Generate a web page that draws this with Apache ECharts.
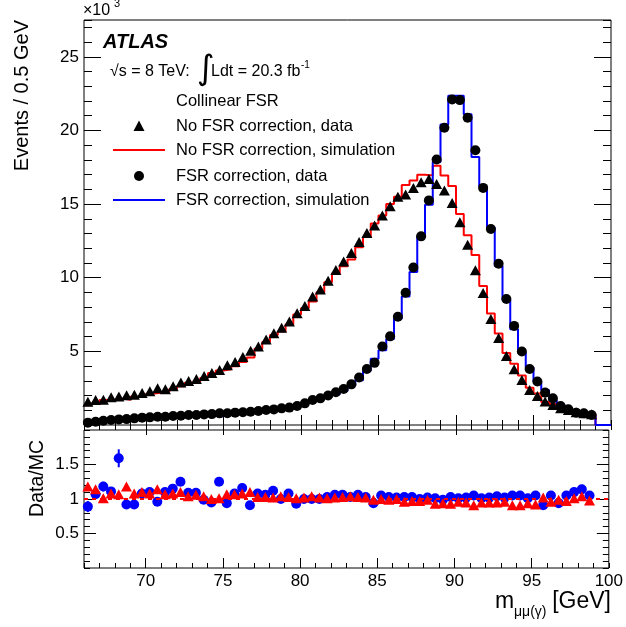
<!DOCTYPE html>
<html>
<head>
<meta charset="utf-8">
<script src="https://cdn.jsdelivr.net/npm/echarts@6/dist/echarts.min.js"></script>
<style>
html,body{margin:0;padding:0;background:#fff;}
#c{width:626px;height:627px;}
</style>
</head>
<body>
<div id="c"></div>
<script>
// ---- data (values in units of 10^3 events per 0.5 GeV bin) ----
const binStart = 66;      // GeV, lower edge of first bin
const binWidth = 0.5;     // GeV
const xTickLabels = [70, 75, 80, 85, 90, 95, 100];
const yTickLabels = [5, 10, 15, 20, 25];
const ratioTickLabels = [0.5, 1, 1.5];

// No FSR correction, data (triangles)
const noFsrData = [
  1.58,1.70,1.72,1.88,1.93,2.02,2.06,2.18,2.30,2.50,
  2.42,2.63,2.89,2.98,3.13,3.32,3.53,3.74,4.05,4.27,
  4.62,5.05,5.33,5.80,6.23,6.60,7.03,7.58,8.08,8.73,
  9.20,9.80,10.52,11.10,11.68,12.43,13.04,13.54,14.22,14.85,
  15.49,15.65,16.10,16.48,16.71,16.37,15.92,15.08,13.76,12.24,
  10.50,8.96,7.19,5.90,4.69,3.79,3.06,2.38,1.97,1.59,
  1.36,1.13,1.02,0.86,0.79,0.73
];
// No FSR correction, simulation (red histogram)
const noFsrSim = [
  1.34,1.49,1.70,1.74,1.80,1.71,1.91,1.98,2.13,2.19,
  2.26,2.44,2.63,2.87,2.95,3.19,3.53,3.70,3.79,3.99,
  4.28,4.59,5.17,5.63,6.11,6.35,6.83,7.50,7.92,8.39,
  9.02,9.70,10.31,10.78,11.23,12.07,12.78,13.68,14.22,15.00,
  15.49,16.30,16.60,16.99,16.95,17.60,16.94,16.22,14.33,12.88,
  11.54,9.43,7.57,6.21,4.89,4.16,3.36,2.53,2.14,1.56,
  1.42,1.14,1.05,0.85,0.76,0.74,0,0
];
// FSR correction, data (circles)
const fsrData = [
  0.16,0.22,0.29,0.34,0.38,0.40,0.45,0.50,0.52,0.56,
  0.56,0.61,0.63,0.68,0.68,0.72,0.74,0.79,0.80,0.84,
  0.86,0.90,0.95,1.02,1.06,1.13,1.18,1.29,1.47,1.70,
  1.81,2.00,2.22,2.45,2.76,3.22,3.80,4.22,5.33,6.02,
  7.35,8.98,10.70,12.81,15.25,18.03,20.18,22.10,22.06,20.86,
  18.66,16.10,13.31,10.95,8.55,6.73,4.99,3.80,2.95,2.20,
  1.81,1.29,1.07,0.84,0.79,0.68
];
// FSR correction, simulation (blue histogram)
const fsrSim = [
  0.18,0.21,0.25,0.31,0.25,0.43,0.49,0.46,0.47,0.58,
  0.51,0.53,0.50,0.62,0.62,0.73,0.78,0.63,0.85,0.78,
  0.74,0.99,0.88,0.96,0.95,1.13,1.09,1.39,1.47,1.70,
  1.81,1.94,2.09,2.31,2.68,3.04,3.69,4.49,5.08,5.84,
  7.21,8.72,10.39,12.81,14.95,17.85,20.40,22.35,22.35,21.10,
  18.20,16.20,13.40,10.80,8.50,6.50,4.90,3.90,2.95,2.38,
  1.70,1.37,1.02,0.76,0.69,0.65,0,0
];
// Data/MC ratios
const noFsrRatio = [
  1.18,1.14,1.01,1.08,1.07,1.18,1.08,1.10,1.08,1.14,
  1.07,1.08,1.10,1.04,1.06,1.04,1.00,1.01,1.07,1.07,
  1.08,1.10,1.03,1.03,1.02,1.04,1.03,1.01,1.02,1.04,
  1.02,1.01,1.02,1.03,1.04,1.03,1.02,0.99,1.00,0.99,
  1.00,0.96,0.97,0.97,0.99,0.93,0.94,0.93,0.96,0.95,
  0.91,0.95,0.95,0.95,0.96,0.91,0.91,0.94,0.92,1.02,
  0.96,0.99,0.97,1.01,1.04,0.98
];
const fsrRatio = [
  0.89,1.07,1.18,1.11,1.59,0.92,0.92,1.08,1.10,0.96,
  1.10,1.15,1.25,1.09,1.09,0.99,0.95,1.25,0.94,1.08,
  1.16,0.91,1.08,1.06,1.12,1.00,1.08,0.93,1.00,1.00,
  1.00,1.03,1.06,1.06,1.03,1.06,1.03,0.94,1.05,1.03,
  1.02,1.03,1.03,1.00,1.02,1.01,0.99,1.03,1.01,1.02,
  1.05,1.01,1.02,1.04,1.02,1.05,1.05,1.01,1.05,0.91,
  1.05,0.94,1.05,1.10,1.14,1.05
];
const fsrRatioErr = [
  0.08,0.06,0.07,0.05,0.13,0.04,0.04,0.04,0.04,0.04,
  0.04,0.04,0.04,0.03,0.03,0.03,0.03,0.03,0.03,0.03,
  0.03,0.03,0.03,0.03,0.03,0.03,0.03,0.03,0.03,0.02,
  0.02,0.02,0.02,0.02,0.02,0.02,0.02,0.02,0.02,0.02,
  0.02,0.02,0.02,0.02,0.02,0.02,0.02,0.02,0.02,0.02,
  0.02,0.02,0.02,0.02,0.02,0.02,0.02,0.02,0.02,0.03,
  0.03,0.03,0.03,0.03,0.03,0.03
];

// ---- build series data ----
const center = i => binStart + binWidth * (i + 0.5);
const edge = i => binStart + binWidth * i;
const histPts = arr => {
  const pts = arr.map((v, i) => [edge(i), v]);
  pts.push([edge(arr.length), arr[arr.length - 1]]);
  return pts;
};
const pointPts = arr => arr.map((v, i) => [center(i), v]);
const xMin = 66, xMax = 100;

const FONT = '"Liberation Sans", Arial, Helvetica, sans-serif';
const RED = '#ff0000', BLUE = '#0000ff';

function xAx(grid, pos, major) {
  const a = {
    type: 'value', gridIndex: grid, position: pos, min: xMin, max: xMax,
    axisLine: { show: false }, splitLine: { show: false },
    axisTick: { show: true, inside: true, length: major ? 10 : 5, lineStyle: { color: '#000', width: 1 } },
    axisLabel: { show: false }
  };
  if (major) {
    a.axisTick.customValues = [70, 75, 80, 85, 90, 95];
    if (grid === 1 && pos === 'bottom') {
      a.axisLabel = { show: true, customValues: xTickLabels, margin: 5, color: '#000', fontSize: 17, fontFamily: FONT };
    }
  } else {
    a.interval = 1;
  }
  return a;
}
function yAx(grid, pos, major) {
  const top = grid === 0;
  const a = {
    type: 'value', gridIndex: grid, position: pos,
    min: 0, max: top ? 27.5 : 2,
    axisLine: { show: false }, splitLine: { show: false },
    axisTick: { show: true, inside: true, length: major ? (top ? 17 : 12) : (top ? 8 : 6), lineStyle: { color: '#000', width: 1 } },
    axisLabel: { show: false }
  };
  if (major) {
    a.axisTick.customValues = top ? [5, 10, 15, 20, 25] : [0.5, 1, 1.5];
    if (pos === 'left') {
      a.axisLabel = { show: true, customValues: top ? yTickLabels : ratioTickLabels, margin: 5, color: '#000', fontSize: 17, fontFamily: FONT };
    }
  } else {
    a.interval = top ? 1 : 0.1;
  }
  return a;
}

const xAxis = [
  xAx(0, 'bottom', false), xAx(0, 'bottom', true),
  xAx(0, 'top', false), xAx(0, 'top', true),
  xAx(1, 'bottom', false), xAx(1, 'bottom', true)
];
const yAxis = [
  yAx(0, 'left', false), yAx(0, 'left', true),
  yAx(0, 'right', false), yAx(0, 'right', true),
  yAx(1, 'left', false), yAx(1, 'left', true),
  yAx(1, 'right', false), yAx(1, 'right', true)
];

const series = [
  { type: 'line', name: 'No FSR correction, simulation', xAxisIndex: 0, yAxisIndex: 0, step: 'end',
    data: histPts(noFsrSim), showSymbol: false, symbol: 'none', lineStyle: { color: RED, width: 2 }, z: 2 },
  { type: 'line', name: 'FSR correction, simulation', xAxisIndex: 0, yAxisIndex: 0, step: 'end',
    data: histPts(fsrSim), showSymbol: false, symbol: 'none', lineStyle: { color: BLUE, width: 2 }, z: 2 },
  { type: 'scatter', name: 'No FSR correction, data', xAxisIndex: 0, yAxisIndex: 0,
    data: pointPts(noFsrData), symbol: 'triangle', symbolSize: [11, 10], itemStyle: { color: '#000', opacity: 1 }, z: 3 },
  { type: 'scatter', name: 'FSR correction, data', xAxisIndex: 0, yAxisIndex: 0,
    data: pointPts(fsrData), symbol: 'circle', symbolSize: 10, itemStyle: { color: '#000', opacity: 1 }, z: 3 },
  // ratio panel
  { type: 'line', xAxisIndex: 4, yAxisIndex: 4, data: [], symbol: 'none',
    markLine: { silent: true, symbol: 'none', label: { show: false },
      lineStyle: { color: RED, type: [4, 4], width: 2 }, data: [{ yAxis: 1 }] }, z: 2 },
  { type: 'custom', xAxisIndex: 4, yAxisIndex: 4,
    data: fsrRatio.map((v, i) => [center(i), v, fsrRatioErr[i]]),
    renderItem: (params, api) => {
      const x = api.value(0), y = api.value(1), e = api.value(2);
      const p1 = api.coord([x, y - e]), p2 = api.coord([x, y + e]);
      return { type: 'line', shape: { x1: p1[0], y1: p1[1], x2: p2[0], y2: p2[1] },
        style: { stroke: BLUE, lineWidth: 2 } };
    }, z: 3 },
  { type: 'scatter', xAxisIndex: 4, yAxisIndex: 4, data: pointPts(fsrRatio),
    symbol: 'circle', symbolSize: 10, itemStyle: { color: BLUE, opacity: 1 }, z: 3 },
  { type: 'scatter', xAxisIndex: 4, yAxisIndex: 4, data: pointPts(noFsrRatio),
    symbol: 'triangle', symbolSize: [11, 10], itemStyle: { color: RED, opacity: 1 }, z: 4 }
];

const txt = (x, y, text, opts) => Object.assign({
  type: 'text', x: x, y: y, z: 100,
  style: Object.assign({ text: text, fill: '#000', font: '16.5px ' + FONT,
    textAlign: 'left', align: 'left', textVerticalAlign: 'middle', verticalAlign: 'middle' }, opts || {})
});

const graphic = [
  // axis titles
  Object.assign(txt(22, 20, 'Events / 0.5 GeV', { font: '20px ' + FONT, textAlign: 'right', align: 'right' }), { rotation: Math.PI / 2 }),
  Object.assign(txt(38, 440, 'Data/MC', { font: '19.5px ' + FONT, textAlign: 'right', align: 'right' }), { rotation: Math.PI / 2 }),
  txt(611, 602, '[GeV]', { font: '23px ' + FONT, textAlign: 'right', align: 'right' }),
  txt(514, 612, 'μμ(γ)', { font: '14px ' + FONT }),
  txt(495, 602, 'm', { font: '23px ' + FONT }),
  // multiplier
  txt(83, 11, '×10', { font: '16px ' + FONT }),
  txt(114, 4, '3', { font: '11px ' + FONT }),
  // ATLAS label
  txt(103, 42, 'ATLAS', { font: 'italic bold 20px ' + FONT }),
  txt(110, 72, '√s = 8 TeV:', { font: '16px ' + FONT }),
  txt(197, 70, '∫', { font: '34px "DejaVu Sans", ' + FONT }),
  txt(211, 72, 'Ldt = 20.3 fb', { font: '16px ' + FONT }),
  txt(301, 65, '-1', { font: '10px ' + FONT }),
  // legend
  txt(176, 101, 'Collinear FSR'),
  { type: 'polygon', z: 100, shape: { points: [[139, 120.5], [133.5, 131], [144.5, 131]] }, style: { fill: '#000' } },
  txt(176, 126, 'No FSR correction, data'),
  { type: 'line', z: 100, shape: { x1: 113, y1: 150, x2: 165, y2: 150 }, style: { stroke: RED, lineWidth: 2 } },
  txt(176, 150, 'No FSR correction, simulation'),
  { type: 'circle', z: 100, shape: { cx: 139, cy: 176, r: 5 }, style: { fill: '#000' } },
  txt(176, 176, 'FSR correction, data'),
  { type: 'line', z: 100, shape: { x1: 113, y1: 200, x2: 165, y2: 200 }, style: { stroke: BLUE, lineWidth: 2 } },
  txt(176, 200, 'FSR correction, simulation')
];

const chart = echarts.init(document.getElementById('c'), null, { renderer: 'canvas' });
chart.setOption({
  animation: false,
  backgroundColor: '#fff',
  textStyle: { fontFamily: FONT },
  grid: [
    { left: 84, right: 15, top: 20, height: 405, show: true, borderColor: '#000', borderWidth: 1, backgroundColor: 'transparent' },
    { left: 84, right: 15, top: 430, height: 138, show: true, borderColor: '#000', borderWidth: 1, backgroundColor: 'transparent' }
  ],
  xAxis: xAxis,
  yAxis: yAxis,
  series: series,
  graphic: graphic
});
</script>
</body>
</html>
